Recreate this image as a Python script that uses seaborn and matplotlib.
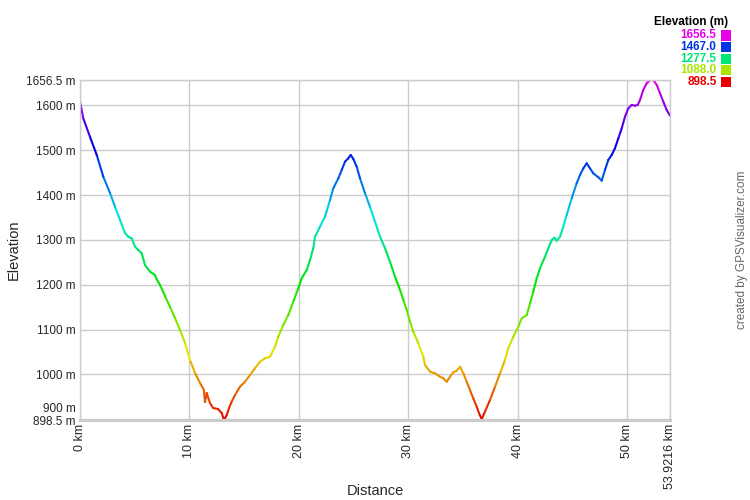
import colorsys
import numpy as np
import pandas as pd
import matplotlib
matplotlib.use("Agg")
import matplotlib.pyplot as plt
from matplotlib.colors import LinearSegmentedColormap, Normalize
import seaborn as sns

# ---- data ----
distance_km = [0.00, 0.30, 0.91, 1.53, 2.13, 2.74, 3.20, 3.66, 4.11, 4.41, 4.72, 5.03, 5.33, 5.64,
               5.94, 6.40, 6.85, 7.01, 7.31, 7.77, 8.23, 8.68, 9.14, 9.60, 10.05, 10.51, 10.97,
               11.33, 11.42, 11.58, 11.88, 12.16, 12.61, 12.95, 13.16, 13.41, 13.62, 13.86, 14.17,
               14.62, 15.08, 15.54, 15.99, 16.45, 16.91, 17.36, 17.52, 17.82, 18.12, 18.58, 19.04,
               19.49, 19.95, 20.26, 20.72, 21.02, 21.32, 21.48, 21.93, 22.39, 22.85, 23.15, 23.61,
               23.92, 24.22, 24.52, 24.74, 24.98, 25.29, 25.59, 26.05, 26.50, 26.96, 27.42, 27.88,
               28.33, 28.79, 29.25, 29.55, 29.86, 30.16, 30.46, 30.92, 31.38, 31.53, 31.99, 32.44,
               32.90, 33.18, 33.51, 33.82, 34.12, 34.43, 34.73, 35.03, 35.34, 35.64, 35.94, 36.26,
               36.47, 36.71, 37.01, 37.47, 37.93, 38.39, 38.84, 39.14, 39.60, 40.06, 40.37, 40.83,
               41.13, 41.43, 41.74, 42.04, 42.50, 42.80, 43.11, 43.35, 43.57, 43.87, 44.17, 44.48,
               44.94, 45.39, 45.70, 46.00, 46.31, 46.61, 46.91, 47.37, 47.68, 47.98, 48.28, 48.59,
               48.89, 49.20, 49.51, 49.81, 50.11, 50.42, 50.72, 50.97, 51.18, 51.48, 51.79, 52.09,
               52.40, 52.71, 53.01, 53.31, 53.62, 53.9216]
elevation_m = [1608.1, 1571.1, 1530.1, 1489.3, 1440.9, 1404.6, 1374.0, 1344.4, 1315.4, 1307.2,
               1303.6, 1284.9, 1277.5, 1270.1, 1244.1, 1229.1, 1221.8, 1212.2, 1199.5, 1174.9,
               1150.4, 1125.9, 1099.1, 1070.2, 1032.3, 1003.3, 981.0, 965.4, 938.6, 958.7, 936.4,
               925.3, 923.0, 914.1, 898.5, 909.6, 925.3, 939.3, 954.2, 972.7, 983.9, 998.8, 1013.8,
               1028.5, 1036.0, 1039.6, 1047.2, 1061.9, 1084.2, 1110.3, 1132.6, 1162.2, 1192.1,
               1214.4, 1232.9, 1255.2, 1281.3, 1307.2, 1329.4, 1351.7, 1389.0, 1415.1, 1437.3,
               1455.9, 1474.4, 1481.9, 1489.3, 1480.4, 1463.2, 1437.3, 1403.9, 1374.0, 1340.6,
               1307.2, 1281.3, 1251.4, 1218.0, 1188.3, 1166.0, 1143.7, 1117.6, 1095.4, 1069.5,
               1039.6, 1021.1, 1006.2, 1002.6, 995.0, 992.1, 983.9, 995.0, 1004.8, 1008.4, 1017.3,
               1002.6, 983.9, 965.4, 946.9, 928.1, 913.4, 900.5, 917.0, 943.1, 972.7, 1002.6,
               1032.3, 1058.3, 1084.2, 1106.5, 1125.2, 1132.6, 1158.7, 1184.5, 1214.4, 1236.7,
               1262.6, 1281.3, 1299.8, 1304.9, 1298.2, 1307.2, 1329.4, 1355.5, 1392.8, 1426.2,
               1444.7, 1459.6, 1470.8, 1459.6, 1448.5, 1439.6, 1432.0, 1455.9, 1478.1, 1489.3,
               1504.2, 1526.5, 1548.8, 1574.7, 1593.4, 1600.8, 1599.2, 1600.8, 1611.9, 1634.2,
               1649.1, 1656.5, 1656.5, 1645.4, 1626.8, 1608.1, 1589.6, 1577.0]

x_ticks = [0, 10, 20, 30, 40, 50, 53.9216]
x_tick_labels = ["0 km", "10 km", "20 km", "30 km", "40 km", "50 km", "53.9216 km"]
y_ticks = [898.5, 900, 1000, 1100, 1200, 1300, 1400, 1500, 1600, 1656.5]
y_tick_labels = ["898.5 m", "", "1000 m", "1100 m", "1200 m", "1300 m", "1400 m",
                 "1500 m", "1600 m", "1656.5 m"]
legend_values = [1656.5, 1467.0, 1277.5, 1088.0, 898.5]
legend_labels = ["1656.5", "1467.0", "1277.5", "1088.0", "898.5"]

ymin, ymax = 898.5, 1656.5
xmax = 53.9216

# ---- colormap: hue 0 (red) -> 300 (magenta) ----
hues = np.linspace(0, 300, 61)
cmap = LinearSegmentedColormap.from_list(
    "gpsv", [colorsys.hsv_to_rgb(h / 360.0, 1.0, 0.9) for h in hues])
norm = Normalize(ymin, ymax)

# ---- segment table for per-segment colouring ----
rows = []
for i in range(len(distance_km) - 1):
    c = (elevation_m[i] + elevation_m[i + 1]) / 2
    rows.append((distance_km[i], elevation_m[i], i, c))
    rows.append((distance_km[i + 1], elevation_m[i + 1], i, c))
seg_df = pd.DataFrame(rows, columns=["km", "elev", "seg", "c"])

sns.set_style("white")
plt.rcParams["font.family"] = ["Liberation Sans", "DejaVu Sans"]

fig = plt.figure(figsize=(7.5, 5), dpi=100)
ax = fig.add_axes([80 / 750, 80 / 500, 590 / 750, 340 / 500])

sns.lineplot(data=seg_df, x="km", y="elev", hue="c", units="seg", estimator=None,
             palette=cmap, hue_norm=(ymin, ymax), legend=False, sort=False,
             linewidth=1.5, ax=ax)

ax.set_xlim(0, xmax)
ax.set_ylim(ymin, ymax)
ax.set_xticks(x_ticks)
ax.set_xticklabels(x_tick_labels, rotation=90, va="top", ha="center", fontsize=9)
ax.set_yticks(y_ticks)
ax.set_yticklabels(y_tick_labels, fontsize=8.5)
ax.tick_params(length=0, pad=3)
ax.grid(True, color="#cccccc", linewidth=1)
ax.set_axisbelow(True)
for s in ax.spines.values():
    s.set_color("#cccccc")
    s.set_linewidth(1)
ax.spines["bottom"].set_linewidth(2.2)

ax.annotate("900 m", xy=(0, 900), xycoords=("axes fraction", "data"),
            xytext=(-3, 7.5), textcoords="offset points", ha="right", va="center",
            fontsize=8.5)

ax.set_xlabel("Distance", fontsize=10.5, va="center")
ax.xaxis.set_label_coords(0.5, -71 / 340)
ax.set_ylabel("Elevation", fontsize=10.5, va="center")
ax.yaxis.set_label_coords(-66 / 590, 0.5)

# credit
fig.text(742 / 750, 1 - 250 / 500, "created by GPSVisualizer.com", rotation=90,
         ha="center", va="center", color="#666666", fontsize=8.5)

# legend
fig.text(728 / 750, 1 - 22 / 500, "Elevation (m)", ha="right", va="center",
         fontsize=8.5, fontweight="bold", color="black")
for k, (v, lab) in enumerate(zip(legend_values, legend_labels)):
    yc = 35.5 + k * 11.6
    col = cmap(norm(v))
    fig.text(716.5 / 750, 1 - yc / 500, lab, ha="right", va="center",
             fontsize=8.5, fontweight="bold", color=col)
    fig.patches.append(plt.Rectangle((721 / 750, 1 - (yc + 5) / 500), 10 / 750, 10 / 500,
                                     transform=fig.transFigure, figure=fig,
                                     facecolor=col, edgecolor="none"))

fig.savefig("out.png", dpi=100)
